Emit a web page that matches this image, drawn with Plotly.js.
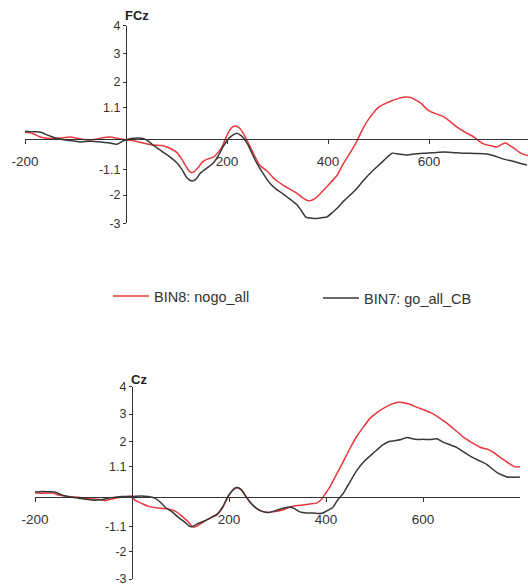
<!DOCTYPE html>
<html>
<head>
<meta charset="utf-8">
<script src="https://cdn.plot.ly/plotly-3.0.1.min.js"></script>
<style>html,body{margin:0;padding:0;background:#fff;}#chart{width:528px;height:586px;}</style>
</head>
<body>
<div id="chart"></div>
<script>
// ---- Data (time in ms, amplitude in microvolts) ----
const seriesNames = ['BIN8: nogo_all', 'BIN7: go_all_CB'];
const panelTitles = ['FCz', 'Cz'];

const xTickVals = [-200, 200, 400, 600];
const xTickText = ['-200', '200', '400', '600'];
const yTickVals = [4, 3, 2, 1.1, -1.1, -2, -3];
const yTickText = ['4', '3', '2', '1.1', '-1.1', '-2', '-3'];

// FCz, BIN8 nogo_all (red)
const fczNogoT = [-200,-185,-170,-150,-130,-111,-95,-77,-60,-45,-32,-15,0,15,34,53,70,81,91,101,111,121,128,135,145,152,162,173,182,190,196,202,209,216,224,232,242,252,265,279,295,311,325,338,350,361,370,378,390,404,418,430,444,457,469,485,501,515,525,540,552,564,575,584,595,604,618,630,642,655,672,689,700,709,720,735,745,752,760,768,780,790,796];
const fczNogoV = [0.22,0.18,0.05,0.0,0.02,0.05,0.0,-0.05,-0.03,0.03,0.05,0.0,-0.05,-0.08,-0.16,-0.23,-0.25,-0.3,-0.38,-0.5,-0.75,-1.05,-1.2,-1.17,-0.98,-0.82,-0.72,-0.66,-0.5,-0.3,-0.05,0.19,0.38,0.44,0.38,0.19,-0.15,-0.52,-0.95,-1.15,-1.45,-1.65,-1.8,-1.93,-2.1,-2.2,-2.17,-2.07,-1.85,-1.58,-1.3,-0.9,-0.5,-0.1,0.35,0.8,1.12,1.25,1.33,1.42,1.47,1.45,1.35,1.25,1.05,0.94,0.85,0.76,0.6,0.41,0.22,0.05,-0.1,-0.2,-0.25,-0.3,-0.2,-0.16,-0.25,-0.34,-0.5,-0.58,-0.6];

// FCz, BIN7 go_all_CB (black)
const fczGoT = [-200,-185,-170,-155,-137,-115,-91,-70,-51,-35,-18,-5,10,25,34,45,53,63,73,87,101,111,121,130,138,147,160,173,183,192,201,210,219,228,240,250,259,272,285,298,310,319,330,339,347,356,368,378,390,398,410,418,432,444,458,471,488,505,515,527,540,556,572,590,610,630,650,669,690,715,730,748,770,794];
const fczGoV = [0.26,0.24,0.23,0.12,0.0,-0.06,-0.12,-0.1,-0.12,-0.15,-0.2,-0.08,0.0,0.02,0.0,-0.1,-0.23,-0.35,-0.48,-0.65,-0.87,-1.1,-1.4,-1.5,-1.45,-1.23,-1.05,-0.87,-0.6,-0.3,-0.05,0.1,0.19,0.1,-0.17,-0.55,-0.87,-1.25,-1.58,-1.8,-1.95,-2.07,-2.22,-2.35,-2.55,-2.78,-2.82,-2.83,-2.8,-2.78,-2.6,-2.47,-2.2,-2.0,-1.75,-1.47,-1.15,-0.87,-0.7,-0.52,-0.55,-0.58,-0.55,-0.52,-0.5,-0.48,-0.5,-0.52,-0.53,-0.55,-0.62,-0.73,-0.82,-0.94];

// Cz, BIN8 nogo_all (red)
const czNogoT = [-200,-185,-165,-150,-132,-110,-90,-70,-56,-45,-35,-20,0,6,20,33,54,74,85,95,105,115,120,128,136,145,155,165,175,187,198,207,216,225,235,243,256,270,282,295,311,326,340,352,366,381,390,396,408,420,435,451,464,478,491,505,520,534,546,557,567,578,588,602,616,632,649,666,684,700,719,733,746,757,767,780,792,800];
const czNogoV = [0.14,0.12,0.13,0.05,0.0,-0.03,-0.08,-0.1,-0.15,-0.1,-0.06,-0.02,0.0,-0.13,-0.25,-0.35,-0.42,-0.45,-0.5,-0.6,-0.75,-0.9,-1.02,-1.12,-1.06,-0.95,-0.84,-0.75,-0.67,-0.4,0.0,0.22,0.33,0.25,0.0,-0.2,-0.42,-0.55,-0.58,-0.55,-0.49,-0.38,-0.33,-0.31,-0.27,-0.24,-0.12,0.03,0.35,0.75,1.25,1.8,2.2,2.55,2.85,3.05,3.22,3.35,3.42,3.42,3.38,3.32,3.24,3.15,3.05,2.88,2.67,2.42,2.15,1.97,1.78,1.72,1.6,1.45,1.33,1.17,1.07,1.09];

// Cz, BIN7 go_all_CB (black)
const czGoT = [-200,-185,-170,-159,-145,-132,-110,-82,-65,-45,-21,0,20,33,47,58,68,82,95,110,118,124,132,145,155,165,175,187,198,207,216,225,235,243,256,270,282,295,311,326,336,346,360,373,385,394,404,414,425,435,445,464,480,499,515,530,542,555,567,578,588,600,615,629,643,656,670,684,699,716,732,743,753,763,773,785,800];
const czGoV = [0.16,0.18,0.17,0.16,0.06,0.0,-0.06,-0.13,-0.12,-0.05,0.0,0.0,0.02,0.0,-0.06,-0.2,-0.38,-0.55,-0.75,-0.95,-1.08,-1.1,-1.02,-0.92,-0.84,-0.75,-0.65,-0.38,0.0,0.22,0.33,0.25,0.0,-0.2,-0.42,-0.55,-0.58,-0.52,-0.43,-0.38,-0.45,-0.56,-0.6,-0.6,-0.62,-0.6,-0.5,-0.4,-0.1,0.1,0.4,0.96,1.3,1.6,1.85,2.0,2.03,2.07,2.15,2.1,2.07,2.08,2.07,2.1,1.96,1.88,1.78,1.62,1.45,1.3,1.16,1.0,0.87,0.78,0.71,0.7,0.71];

// ---- Styling ----
const W = 528, H = 586;
const RED = '#e8383d', BLACK = '#383838';
const FONT = 'Liberation Sans, Arial, sans-serif';

function line(t, v, color, name, xa, ya, showLegend, legend) {
  return {
    x: t, y: v, type: 'scatter', mode: 'lines', name: name,
    xaxis: xa, yaxis: ya, showlegend: showLegend, legend: legend,
    line: {color: color, width: 1.5, shape: 'spline', smoothing: 0.6},
    hoverinfo: 'skip'
  };
}

const traces = [
  line(fczNogoT, fczNogoV, RED, seriesNames[0], 'x', 'y', true, 'legend'),
  line(fczGoT, fczGoV, BLACK, seriesNames[1], 'x', 'y', true, 'legend2'),
  line(czNogoT, czNogoV, RED, seriesNames[0], 'x2', 'y2', false, 'legend'),
  line(czGoT, czGoV, BLACK, seriesNames[1], 'x2', 'y2', false, 'legend2')
];

function xAx(domain, range, pos) {
  return {
    domain: domain, range: range, anchor: 'free', position: pos,
    showline: true, linecolor: '#333', linewidth: 1.2,
    showgrid: false, zeroline: false,
    tickmode: 'array', tickvals: xTickVals, ticktext: xTickText,
    ticks: 'outside', ticklen: 4, tickwidth: 1, tickcolor: '#333',
    ticklabelstandoff: 6, ticklabeloverflow: 'allow',
    tickfont: {family: FONT, size: 13.5, color: '#333'},
    fixedrange: true
  };
}
function yAx(domain, pos) {
  return {
    domain: domain, range: [-3, 4], anchor: 'free', position: pos,
    showline: true, linecolor: '#333', linewidth: 1.2,
    showgrid: false, zeroline: false,
    tickmode: 'array', tickvals: yTickVals, ticktext: yTickText,
    ticks: 'outside', ticklen: 3, tickwidth: 1, tickcolor: '#333',
    ticklabeloverflow: 'allow',
    tickfont: {family: FONT, size: 12.5, color: '#333'},
    fixedrange: true
  };
}

const layout = {
  width: W, height: H,
  margin: {l: 0, r: 0, t: 0, b: 0},
  paper_bgcolor: '#fff', plot_bgcolor: 'rgba(0,0,0,0)',
  font: {family: FONT, color: '#333'},
  xaxis: xAx([25 / W, 1], [-200, 796], 1 - 138.5 / H),
  yaxis: yAx([1 - 223.25 / H, 1 - 25.5 / H], 126 / W),
  xaxis2: xAx([35 / W, 520 / W], [-200, 800], 1 - 496.5 / H),
  yaxis2: yAx([1 - 579 / H, 1 - 386.5 / H], 132 / W),
  legend: {
    x: 108 / W, xanchor: 'left', y: 1 - 296 / H, yanchor: 'middle',
    orientation: 'h', bgcolor: 'rgba(0,0,0,0)', borderwidth: 0,
    itemwidth: 36, font: {family: FONT, size: 14.5, color: '#333'}
  },
  legend2: {
    x: 318 / W, xanchor: 'left', y: 1 - 298 / H, yanchor: 'middle',
    orientation: 'h', bgcolor: 'rgba(0,0,0,0)', borderwidth: 0,
    itemwidth: 36, font: {family: FONT, size: 14.5, color: '#333'}
  },
  annotations: [
    {text: '<b>' + panelTitles[0] + '</b>', xref: 'paper', yref: 'paper',
     x: 123 / W, y: 1 - 15 / H, xanchor: 'left', yanchor: 'middle', showarrow: false,
     font: {family: FONT, size: 13, color: '#222'}},
    {text: '<b>' + panelTitles[1] + '</b>', xref: 'paper', yref: 'paper',
     x: 129 / W, y: 1 - 379 / H, xanchor: 'left', yanchor: 'middle', showarrow: false,
     font: {family: FONT, size: 13, color: '#222'}}
  ]
};

Plotly.newPlot('chart', traces, layout, {staticPlot: true, displayModeBar: false});
</script>
</body>
</html>
